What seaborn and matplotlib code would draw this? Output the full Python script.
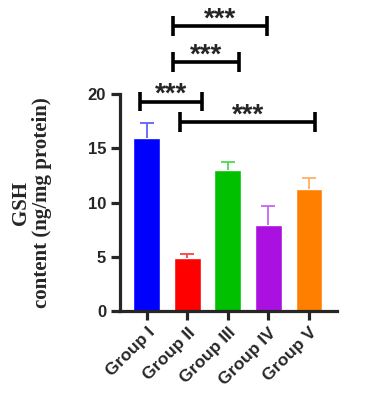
import pandas as pd
import matplotlib
matplotlib.use('Agg')
import matplotlib.pyplot as plt
import seaborn as sns

# values
groups = ['Group I', 'Group II', 'Group III', 'Group IV', 'Group V']
means = [16.0, 4.87, 13.02, 7.94, 11.26]
upper_err = [1.36, 0.37, 0.71, 1.78, 1.05]
bar_colors = ['#0000FF', '#FF0000', '#00C000', '#AA10E0', '#FF8000']
err_colors = ['#6060FF', '#FF4040', '#50D850', '#C864F0', '#FFB060']

# significance brackets: (x_left, x_right, y, label)
brackets = [(-0.165, 1.355, 19.33, '***'),
            (0.82, 4.15, 17.42, '***'),
            (0.64, 2.27, 23.0, '***'),
            (0.64, 2.96, 26.3, '***')]

sns.set_style('ticks')
df = pd.DataFrame({'group': groups, 'value': means})

fig = plt.figure(figsize=(3.67, 3.97), dpi=100)
ax = fig.add_axes([0.327, 0.2166, 0.590, 0.546])
sns.barplot(data=df, x='group', y='value', hue='group', palette=bar_colors,
            legend=False, errorbar=None, width=0.66, saturation=1, ax=ax)

for i, (m, e) in enumerate(zip(means, upper_err)):
    _, caps, _ = ax.errorbar(i, m, yerr=[[0], [e]], color=err_colors[i],
                             capsize=5, elinewidth=1.3, capthick=1.3)
    caps[0].set_visible(False)  # only the upper cap

for x0, x1, y, lab in brackets:
    ax.plot([x0, x1], [y, y], color='black', lw=2.6, clip_on=False,
            solid_capstyle='butt')
    for xx in (x0, x1):
        ax.plot([xx, xx], [y - 0.92, y + 0.92], color='black', lw=2.6,
                clip_on=False, solid_capstyle='butt')
    ax.text((x0 + x1) / 2, y - 0.05, lab, ha='center', va='baseline',
            fontsize=20, fontweight='bold', family='Liberation Sans',
            clip_on=False)

ax.set_xlim(-0.66, 4.68)
ax.set_ylim(0, 20)
ax.set_yticks([0, 5, 10, 15, 20])
ax.set_xlabel('')
ax.set_ylabel('GSH\ncontent (ng/mg protein)', family='Liberation Serif',
              fontweight='bold', fontsize=15, linespacing=1.05)
ax.yaxis.label.set_va('center')
ax.yaxis.set_label_coords(-0.41, 0.5)
sns.despine(ax=ax)
for sp in ['left', 'bottom']:
    ax.spines[sp].set_linewidth(2.3)
ax.tick_params(axis='both', width=2.3, length=6.5, labelsize=12)
for lbl in ax.get_yticklabels():
    lbl.set_fontweight('bold')
    lbl.set_family('Liberation Sans')
plt.setp(ax.get_xticklabels(), rotation=45, ha='right', rotation_mode='anchor',
         fontweight='bold', family='Liberation Sans', fontsize=12.5)

fig.savefig('out.png', dpi=100)
plt.close()
